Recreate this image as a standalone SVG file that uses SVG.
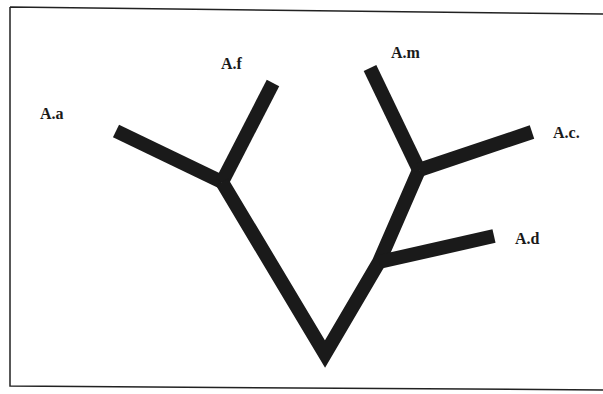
<svg xmlns="http://www.w3.org/2000/svg" width="603" height="394" viewBox="0 0 603 394">
<style>
.frame{fill:none;stroke:#222;stroke-width:1.5}
.br{fill:none;stroke:#1a1a1a;stroke-width:14;stroke-linecap:butt;stroke-linejoin:miter;stroke-miterlimit:10}
.lbl{font-family:"Liberation Serif",serif;font-size:16px;font-weight:bold;fill:#1a1a1a}
</style>
<rect width="603" height="394" fill="#fff"/>
<path class="frame" d="M10,7 L603,14 M10,7 L10,386 L603,390"/>
<g id="connectors">
<path class="br" d="M116,131 L222,182"/>
<path class="br" d="M273,83 L222,182"/>
<path class="br" d="M222,182 L325,354 L379,262 L419,170"/>
<path class="br" d="M370,68 L419,170"/>
<path class="br" d="M419,170 L532,132"/>
<path class="br" d="M379,262 L494,236"/>
</g>
<g id="node-aa"><text class="lbl" x="40" y="119">A.a</text></g>
<g id="node-af"><text class="lbl" x="221" y="69">A.f</text></g>
<g id="node-am"><text class="lbl" x="391" y="58">A.m</text></g>
<g id="node-ac"><text class="lbl" x="553" y="138">A.c.</text></g>
<g id="node-ad"><text class="lbl" x="515" y="244">A.d</text></g>
</svg>
